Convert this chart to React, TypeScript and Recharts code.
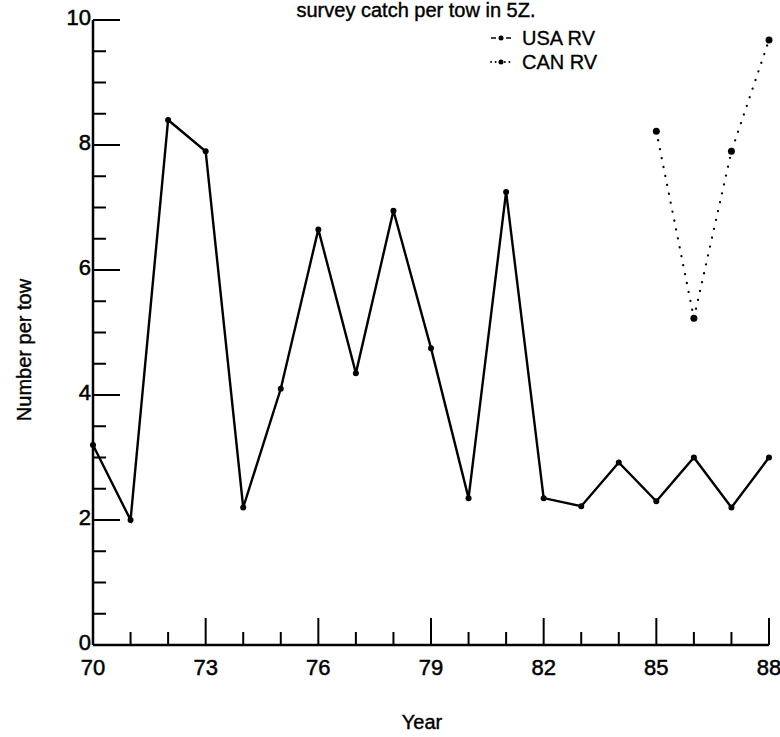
import { LineChart, Line, XAxis, YAxis, Legend, Customized } from 'recharts';

// survey catch per tow in 5Z
const years = [70, 71, 72, 73, 74, 75, 76, 77, 78, 79, 80, 81, 82, 83, 84, 85, 86, 87, 88];
const usaRV = [3.2, 2.0, 8.4, 7.9, 2.2, 4.1, 6.65, 4.35, 6.95, 4.75, 2.35, 7.25, 2.35, 2.22, 2.92, 2.3, 3.0, 2.2, 3.0];
const canYears = [85, 86, 87, 88];
const canRV = [8.22, 5.23, 7.9, 9.68];

const xLabelYears = [70, 73, 76, 79, 82, 85, 88];
const yTicks = [0, 0.5, 1, 1.5, 2, 2.5, 3, 3.5, 4, 4.5, 5, 5.5, 6, 6.5, 7, 7.5, 8, 8.5, 9, 9.5, 10];
const yLabels = [0, 2, 4, 6, 8, 10];

const FONT = '"Liberation Sans", Arial, Helvetica, sans-serif';

const data = years.map((year, i) => {
  const c = canYears.indexOf(year);
  return { year, usa: usaRV[i], can: c >= 0 ? canRV[c] : null };
});

const XTick = ({ x, y, payload }: any) => {
  const major = xLabelYears.includes(payload.value);
  return (
    <g>
      <line x1={x} x2={x} y1={y} y2={y - (major ? 27 : 13)} stroke="#000" strokeWidth={2} />
      {major && (
        <text x={x} y={y + 30} textAnchor="middle" fontSize={22} fontFamily={FONT} fill="#000" stroke="#000" strokeWidth={0.5}>
          {payload.value}
        </text>
      )}
    </g>
  );
};

const YTick = ({ x, y, payload }: any) => {
  const major = yLabels.includes(payload.value);
  return (
    <g>
      <line x1={x} x2={x + (major ? 27 : 13)} y1={y} y2={y} stroke="#000" strokeWidth={2} />
      {major && (
        <text x={x - 2} y={y - 3} dy="0.36em" textAnchor="end" fontSize={22} fontFamily={FONT} fill="#000" stroke="#000" strokeWidth={0.5}>
          {payload.value}
        </text>
      )}
    </g>
  );
};

const renderLegend = () => (
  <div style={{ fontFamily: FONT, fontSize: 20, lineHeight: '24px', color: '#000', WebkitTextStroke: '0.3px #000' }}>
    <div style={{ display: 'flex', alignItems: 'center' }}>
      <svg width={28} height={12}>
        <line x1={3} x2={8} y1={6} y2={6} stroke="#000" strokeWidth={1.5} />
        <circle cx={13} cy={6} r={2.5} fill="#000" />
        <line x1={18} x2={23} y1={6} y2={6} stroke="#000" strokeWidth={1.5} />
      </svg>
      <span style={{ marginLeft: 6 }}>USA RV</span>
    </div>
    <div style={{ display: 'flex', alignItems: 'center' }}>
      <svg width={28} height={12}>
        <line x1={3} x2={25} y1={6} y2={6} stroke="#000" strokeWidth={1.8} strokeDasharray="0.1 4.5" strokeLinecap="round" />
        <circle cx={13} cy={6} r={2.5} fill="#000" />
      </svg>
      <span style={{ marginLeft: 6 }}>CAN RV</span>
    </div>
  </div>
);

const Annotations = () => (
  <g fontFamily={FONT} fill="#000" fontSize={20} stroke="#000" strokeWidth={0.4}>
    <text x={416} y={17} textAnchor="middle">survey catch per tow in 5Z.</text>
    <text x={24} y={350} textAnchor="middle" transform="rotate(-90 24 350)" dy="0.36em">
      Number per tow
    </text>
  </g>
);

export default function App() {
  return (
    <div style={{ width: 780, height: 737, background: '#fff' }}>
      <style>{`body{margin:0}`}</style>
      <LineChart width={780} height={737} data={data} margin={{ top: 20, right: 11, bottom: 0, left: 0 }}>
        <XAxis
          dataKey="year"
          type="number"
          domain={[70, 88]}
          ticks={years}
          interval={0}
          tickSize={0}
          tickMargin={0}
          tickLine={false}
          tick={<XTick />}
          height={92}
          axisLine={{ stroke: '#000', strokeWidth: 2.5 }}
          label={{ value: 'Year', position: 'insideBottom', offset: 8, fontSize: 20, fontFamily: FONT, fill: '#000', stroke: '#000', strokeWidth: 0.4, dx: -9 }}
        />
        <YAxis
          type="number"
          domain={[0, 10]}
          ticks={yTicks}
          interval={0}
          tickSize={0}
          tickMargin={0}
          tickLine={false}
          tick={<YTick />}
          width={93}
          axisLine={{ stroke: '#000', strokeWidth: 2.5 }}
        />
        <Legend
          content={renderLegend}
          layout="vertical"
          align="center"
          verticalAlign="middle"
          wrapperStyle={{ top: 26, left: 488, width: 200 }}
        />
        <Line
          dataKey="usa"
          stroke="#000"
          strokeWidth={2.4}
          dot={{ r: 3, fill: '#000', stroke: 'none' }}
          activeDot={false}
          isAnimationActive={false}
        />
        <Line
          dataKey="can"
          stroke="#000"
          strokeWidth={2.2}
          strokeDasharray="0.1 9"
          strokeLinecap="round"
          dot={{ r: 3.5, fill: '#000', stroke: 'none' }}
          activeDot={false}
          connectNulls={false}
          isAnimationActive={false}
        />
        <Customized component={Annotations} />
      </LineChart>
    </div>
  );
}
